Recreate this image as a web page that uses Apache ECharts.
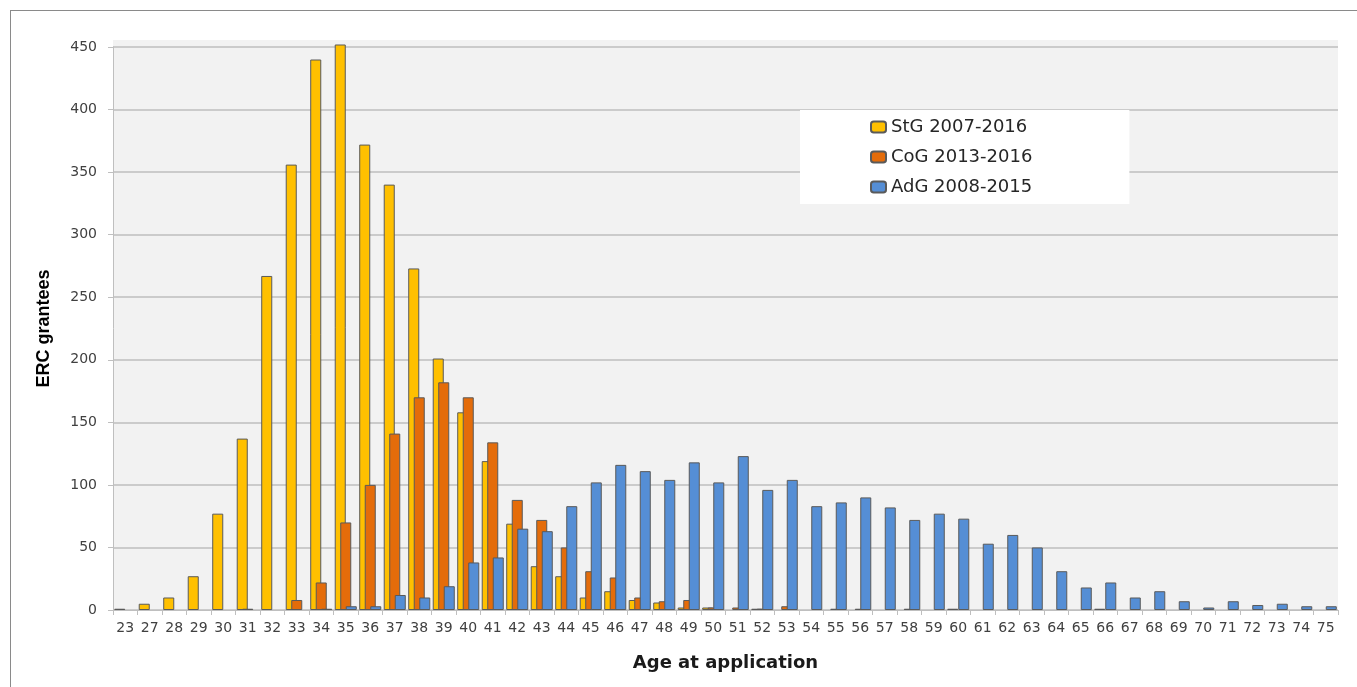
<!DOCTYPE html>
<html>
<head>
<meta charset="utf-8">
<script src="https://cdn.jsdelivr.net/npm/echarts@6/dist/echarts.min.js"></script>
<style>
html,body{margin:0;padding:0;background:#fff;}
#chart{position:absolute;left:0;top:0;width:1357px;height:687px;}
#frame{position:absolute;left:10px;top:10px;width:1347px;height:677px;border-top:1px solid #8a8a8a;border-left:1px solid #8a8a8a;pointer-events:none;box-sizing:border-box;}
</style>
</head>
<body>
<div id="chart"></div>
<div id="frame"></div>
<script>
const ages = ['23','27','28','29','30','31','32','33','34','35','36','37','38','39','40','41','42','43','44','45','46','47','48','49','50','51','52','53','54','55','56','57','58','59','60','61','62','63','64','65','66','67','68','69','70','71','72','73','74','75'];
const stg = [1,5,10,27,77,137,267,356,440,452, 372,340,273,201,158,119,69,35,27,10, 15,8,6,2,2,0,1,0,0,0, 0,0,0,0,1,0,0,0,0,0, 1,0,0,0,0,0,0,0,0,0];
const cog = [0,0,0,0,0,1,0,8,22,70, 100,141,170,182,170,134,88,72,50,31, 26,10,7,8,2,2,1,3,0,1, 1,0,1,0,0,0,0,0,0,0, 0,0,0,0,0,0,0,0,0,0];
const adg = [0,0,0,0,0,0,0,0,1,3, 3,12,10,19,38,42,65,63,83,102, 116,111,104,118,102,123,96,104,83,86, 90,82,72,77,73,53,60,50,31,18, 22,10,15,7,2,7,4,5,3,3];
const seriesNames = ['StG 2007-2016','CoG 2013-2016','AdG 2008-2015'];
const yTicks = [0,50,100,150,200,250,300,350,400,450];

const colors = ['#FFC000','#E46C0A','#558ED5'];
const chart = echarts.init(document.getElementById('chart'), null, {renderer:'canvas'});
const toData = arr => arr.map(v => v === 0 ? '-' : v);
const mk = (name, arr, i) => ({
  name: name, type: 'bar', data: toData(arr), clip: false,
  barGap: '-50%', barCategoryGap: '10%',
  itemStyle: {color: colors[i], borderColor: '#5a5a5a', borderWidth: 1},
  emphasis: {disabled: true}
});
chart.setOption({
  animation: false,
  backgroundColor: '#ffffff',
  graphic: [{type:'rect', z:-10, shape:{x:113, y:40, width:1225, height:8}, style:{fill:'#F2F2F2'}, silent:true}],
  grid: {left:113, right:19, top:47, bottom:77, show:true, backgroundColor:'#F2F2F2', borderWidth:0},
  legend: {
    data: seriesNames, orient:'vertical', left:800, top:110,
    backgroundColor:'#ffffff', padding:[8, 97, 8, 70], itemGap:12,
    itemWidth:15, itemHeight:11,
    textStyle:{fontFamily:'DejaVu Sans', fontSize:18, color:'#262626', lineHeight:18}
  },
  xAxis: {
    type:'category', data: ages,
    name:'Age at application', nameLocation:'middle', nameGap:44,
    nameTextStyle:{fontFamily:'DejaVu Sans', fontWeight:'bold', fontSize:18, color:'#1a1a1a'},
    axisLine:{lineStyle:{color:'#BFBFBF', width:1}},
    axisTick:{show:true, length:5, lineStyle:{color:'#BFBFBF'}},
    axisLabel:{interval:0, fontFamily:'DejaVu Sans', fontSize:14, color:'#404040', margin:11}
  },
  yAxis: {
    type:'value', min: yTicks[0], max: yTicks[yTicks.length-1], interval: 50,
    name:'ERC grantees', nameLocation:'middle', nameGap:60, nameRotate:90,
    nameTextStyle:{fontFamily:"'Liberation Sans Narrow','Liberation Sans'", fontWeight:'bold', fontSize:18, color:'#000'},
    axisLine:{show:true, lineStyle:{color:'#BFBFBF', width:1}},
    axisTick:{show:true, length:5, lineStyle:{color:'#BFBFBF'}},
    axisLabel:{fontFamily:'DejaVu Sans', fontSize:14, color:'#404040', margin:16},
    splitLine:{lineStyle:{color:'#BEBEBE', width:1.5}}
  },
  series: [mk(seriesNames[0], stg, 0), mk(seriesNames[1], cog, 1), mk(seriesNames[2], adg, 2)]
});
</script>
</body>
</html>
